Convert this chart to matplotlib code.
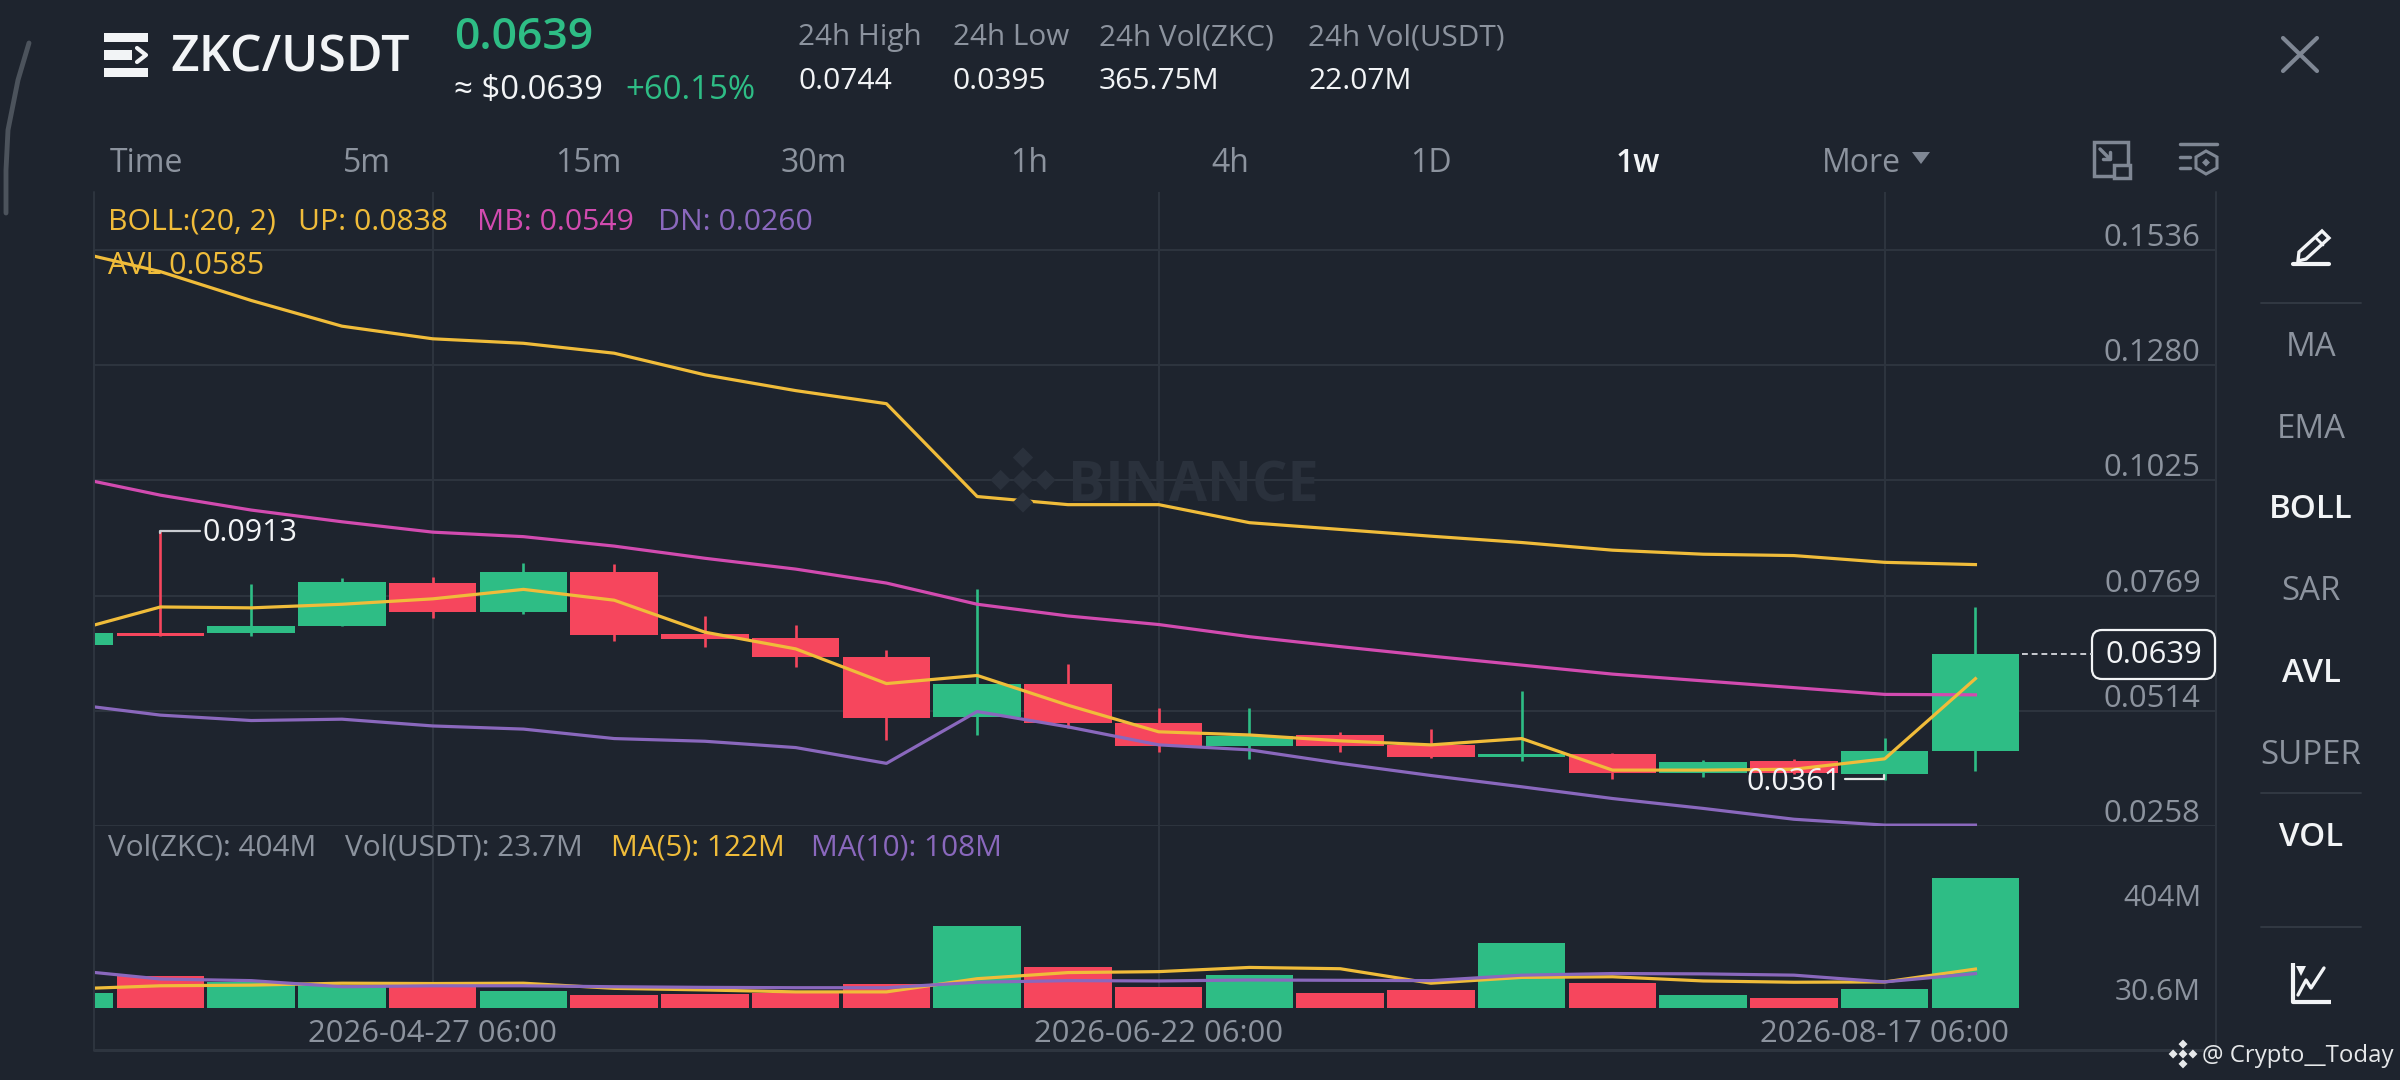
import matplotlib
matplotlib.use("Agg")
import matplotlib.pyplot as plt
from matplotlib.patches import Rectangle, FancyBboxPatch, Polygon
from matplotlib.transforms import ScaledTranslation

plt.rcParams['font.family'] = ['Open Sans', 'DejaVu Sans']

# ---- data ----
opens  = [.0660,.0687,.0687,.0701,.0798,.0733,.0821,.0683,.0675,.0634,.0500,.0573,.0487,.0436,.0460,.0438,.0410,.0418,.0375,.0402,.0373,.0424]
closes = [.0687,.0680,.0701,.0799,.0733,.0821,.0682,.0672,.0634,.0498,.0573,.0487,.0436,.0458,.0436,.0410,.0418,.0375,.0400,.0375,.0424,.0639]
highs  = [.0687,.0913,.0795,.0809,.0811,.0841,.0839,.0724,.0703,.0649,.0784,.0617,.0520,.0519,.0467,.0473,.0558,.0420,.0404,.0407,.0453,.0744]
lows   = [.0660,.0680,.0680,.0701,.0720,.0728,.0669,.0656,.0610,.0449,.0461,.0475,.0423,.0407,.0422,.0409,.0402,.0363,.0367,.0373,.0361,.0381]
avl    = [.0689,.0744,.0742,.0750,.0762,.0783,.0759,.0688,.0651,.0574,.0592,.0526,.0467,.0460,.0447,.0438,.0452,.0382,.0382,.0384,.0407,.0585]
boll_up= [.1535,.1488,.1424,.1367,.1339,.1329,.1307,.1259,.1224,.1195,.0989,.0971,.0971,.0931,.0916,.0901,.0887,.0870,.0861,.0858,.0843,.0838]
boll_mb= [.1034,.0992,.0959,.0933,.0910,.0900,.0879,.0852,.0828,.0797,.0750,.0724,.0705,.0678,.0656,.0635,.0615,.0595,.0580,.0565,.0550,.0549]
boll_dn= [.0529,.0504,.0492,.0495,.0480,.0473,.0452,.0446,.0432,.0397,.0512,.0478,.0438,.0427,.0397,.0370,.0345,.0319,.0297,.0273,.0260,.0260]
volume = [49,100,83,72,70,54,41,43.5,46,75,257,127,65,105,49,57,204,80,40,32,60,404]
vol_ma5 = [60,70,72,78,77,78,62,57,51,51,92,111,114,127,123,78,96,98,85,81,82,122]
vol_ma10= [119,91,86,67,70,70,67,65,64,64,81,86,85,88,87,86,103,108,107,103,82,108]
price_ticks = [.1536,.1280,.1025,.0769,.0514,.0258]
price_labels = ['0.1536','0.1280','0.1025','0.0769','0.0514','0.0258']
date_idx = [4,12,20]
date_labels = ['2026-04-27 06:00','2026-06-22 06:00','2026-08-17 06:00']
tabs = ['Time','5m','15m','30m','1h','4h','1D','1w','More']
indicators = ['MA','EMA','BOLL','SAR','AVL','SUPER','VOL']
stats = [('24h High','0.0744'),('24h Low','0.0395'),('24h Vol(ZKC)','365.75M'),('24h Vol(USDT)','22.07M')]

BG='#1E242E'; GRID='#2E353F'; GREEN='#2EBD85'; RED='#F6465D'; YEL='#F0BC3A'; MAG='#D24BB0'; PUR='#8A68BD'
GRAY='#8C939E'; WHITE='#F2F4F6'

W,H=2400,1080
fig=plt.figure(figsize=(W/100,H/100),dpi=100,facecolor=BG)
def axpx(l,t,r,b,**k):
    return fig.add_axes([l/W,1-b/H,(r-l)/W,(b-t)/H],**k)

x0,dx=69.7,90.75
xlim=((94-x0)/dx,(2216-x0)/dx)
xs=list(range(len(opens)))
# pixel row of 0.1536 is 250, of 0.0258 is 826
ppx=(.1536-.0258)/576
ax=axpx(94,192,2216,826,facecolor='none')
ax.set_xlim(*xlim); ax.set_ylim(.0258,.1536+(250-192)*ppx)
vax=axpx(94,826,2216,1008.3,facecolor='none')
vax.set_xlim(*xlim); vax.set_ylim(0,182.3*3.108)

for a in (ax,vax):
    for s in a.spines.values(): s.set_visible(False)
    a.set_xticks(date_idx)
    a.grid(True,color=GRID,lw=1.4); a.set_axisbelow(True)
    a.tick_params(length=0)
ax.set_xticklabels([])
ax.yaxis.tick_right()
ax.set_yticks(price_ticks); ax.set_yticklabels(price_labels)
ax.tick_params(axis='y',pad=-11,labelsize=22.3,labelcolor=GRAY)
shift=ScaledTranslation(0,-3/100,fig.dpi_scale_trans)
for t in ax.get_yticklabels():
    t.set_ha('right'); t.set_va('bottom')
    t.set_transform(t.get_transform()+shift)
vax.set_yticks([])
vax.set_xticklabels(date_labels,fontsize=22.3,color=GRAY)
vax.tick_params(axis='x',pad=8)

# candles
for i in xs:
    c=GREEN if closes[i]>=opens[i] else RED
    ax.plot([i,i],[lows[i],highs[i]],color=c,lw=1.9,solid_capstyle='butt',zorder=2)
    ax.bar(i,abs(closes[i]-opens[i]),bottom=min(opens[i],closes[i]),width=.965,color=c,lw=0,zorder=3)
    vax.bar(i,volume[i],width=.965,color=c,lw=0,zorder=2)
ax.plot(xs,boll_up,color=YEL,lw=2.3,zorder=4)
ax.plot(xs,boll_mb,color=MAG,lw=2.3,zorder=4)
ax.plot(xs,boll_dn,color=PUR,lw=2.3,zorder=4)
ax.plot(xs,avl,color=YEL,lw=2.3,zorder=5)
vax.plot(xs,vol_ma5,color=YEL,lw=2.3,zorder=4)
vax.plot(xs,vol_ma10,color=PUR,lw=2.3,zorder=4)

# chrome overlay in pixel coordinates
ov=fig.add_axes([0,0,1,1],facecolor='none',zorder=5); ov.set_xlim(0,W); ov.set_ylim(H,0); ov.axis('off')
def T(x,y,s,size=20,color=GRAY,ha='left',va='baseline',weight='normal',**k):
    return ov.text(x,y,s,fontsize=size,color=color,ha=ha,va=va,fontweight=weight,**k)
def L(xx,yy,color=GRAY,lw=2.5,**k):
    ov.plot(xx,yy,color=color,lw=lw,solid_capstyle=k.pop('cap','round'),**k)
def diamond(cx,cy,r,color):
    ov.add_patch(Polygon([(cx-r,cy),(cx,cy-r),(cx+r,cy),(cx,cy+r)],closed=True,fc=color,ec='none'))
def logo(cx,cy,r,color):
    s=r*0.30
    for ddx,ddy in [(0,0),(-r*.66,0),(r*.66,0),(0,-r*.66),(0,r*.66)]:
        diamond(cx+ddx,cy+ddy,s,color)

# frame
L([94,94],[192,1050],GRID,1.4,zorder=0); L([2216,2216],[192,1050],GRID,1.4,zorder=0)
L([94,2216],[1050,1050],GRID,2.2,zorder=0)
# arc left
L([29,18,8,6,6],[43,80,130,170,213],'#4C535C',3.5)
# header
for yy in (37.5,72.5):
    ov.add_patch(Rectangle((104,yy-4.5),44,9,fc=WHITE,ec='none'))
ov.add_patch(Rectangle((104,50),28,10,fc=WHITE,ec='none'))
L([137,146,137],[48,55,62],WHITE,3)
T(170,72,'ZKC/USDT',36,WHITE,weight='semibold')
T(454,49,'0.0639',32,GREEN,weight='semibold')
T(454,99,'≈ $0.0639',23.8,WHITE,weight='medium')
T(625,99,'+60.15%',23.8,GREEN,weight='medium')
for x,(a,b) in zip([798,953,1099,1308],stats):
    T(x,45,a,21.4,GRAY); T(x,89,b,21.6,WHITE,weight='medium')
# close
L([2283,2317],[38,71],'#7F8794',3); L([2317,2283],[38,71],'#7F8794',3)
# tabs
for x,s in zip([110,367,588,814,1029,1230,1431,1638,1861],tabs):
    active=s=='1w'
    T(x,172,s,23,WHITE if active else GRAY,ha='left' if s=='Time' else 'center',weight='semibold' if active else 'normal')
ov.add_patch(Polygon([(1912,152),(1930,152),(1921,164)],closed=True,fc='#7F8794',ec='none'))
# screen icons
ov.add_patch(Rectangle((2094,142),34,34,fc='none',ec='#7F8794',lw=2.5))
ov.add_patch(Rectangle((2114,165),16,13,fc=BG,ec='#7F8794',lw=2.5))
L([2100,2110],[149,159],'#7F8794',2.5); L([2110,2110,2103],[152,159,159],'#7F8794',2.5)
L([2180,2217],[144,144],'#7F8794',2.5)
L([2180,2190],[157,157],'#7F8794',2.5); L([2180,2190],[168,168],'#7F8794',2.5)
ov.add_patch(Polygon([(2206,151),(2217,157),(2217,168),(2206,174),(2196,168),(2196,157)],closed=True,fc='none',ec='#7F8794',lw=2.2))
diamond(2206,162.5,4,'#7F8794')
# pencil
ov.add_patch(Polygon([(2322,231),(2329,238),(2306,259),(2298,261),(2299,252)],closed=True,fc='none',ec=WHITE,lw=2.4))
L([2316,2323],[238,245],WHITE,2)
L([2293,2329],[264,264],WHITE,3)
L([2261,2361],[303,303],'#343B45',1.3)
L([2261,2361],[793,793],'#343B45',1.3)
L([2261,2361],[927,927],'#343B45',1.3)
for y,s in zip([348,429,510,592,674,755,838],indicators):
    on=s in('BOLL','AVL','VOL')
    T(2311,y,s,23.8,WHITE if on else GRAY,ha='center',va='center',weight='semibold' if on else 'normal')
# chart icon
L([2293,2293,2331],[963,1002,1002],WHITE,3,cap='butt')
L([2298,2306,2311,2324],[995,980,988,968],WHITE,2.4)
ov.add_patch(Polygon([(2296,966),(2306,966),(2301,976)],closed=True,fc=WHITE,ec='none'))
# legends
for x,s,c in [(108,'BOLL:(20, 2)',YEL),(298,'UP: 0.0838',YEL),(477,'MB: 0.0549',MAG),(658,'DN: 0.0260',PUR)]:
    T(x,229.5,s,21.7,c)
T(108,274,'AVL 0.0585',22,YEL)
for x,s,c in [(108,'Vol(ZKC): 404M',GRAY),(345,'Vol(USDT): 23.7M',GRAY),(611,'MA(5): 122M',YEL),(811,'MA(10): 108M',PUR)]:
    T(x,855,s,21.4,c)
# vol axis text
T(2201,899,'404M',21.5,GRAY,ha='right',va='center')
T(2201,992,'30.6M',21.5,GRAY,ha='right',va='center')
# callouts
L([160.4,160.4,200],[533,531,531],'#C9CCD1',1.6)
T(202,533,'0.0913',22,WHITE,va='center')
L([1845,1884,1884],[779,779,775],'#E8E8E8',1.6)
T(1842,782,'0.0361',22,WHITE,ha='right',va='center')
# last price tag
L([2022,2092],[654.3,654.3],'#C9CCD1',1.4,ls=(0,(3,2)),cap='butt')
ov.add_patch(FancyBboxPatch((2102,640),103,29,boxstyle='round,pad=10,rounding_size=10',fc=BG,ec=WHITE,lw=1.6))
T(2153.5,655,'0.0639',22.3,WHITE,ha='center',va='center')
# watermark
logo(1023,480,34,'#2A313C')
T(1068,502,'BINANCE',40,'#2A313C',weight='bold',zorder=0.5)
# credit
logo(2183,1054,15,'#E6E8EA')
T(2202,1062,'@ Crypto__Today',17.3,'#E6E8EA')

fig.savefig('out.png',dpi=100,facecolor=BG)
